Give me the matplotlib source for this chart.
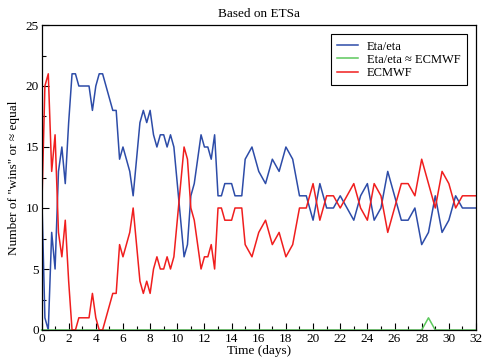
import numpy as np
import matplotlib
matplotlib.use("Agg")
import matplotlib.pyplot as plt
from matplotlib.ticker import MultipleLocator

plt.rcParams['font.family'] = ['Liberation Serif', 'DejaVu Serif']

# 6-hourly up to day 15, 12-hourly afterwards
time_days = np.concatenate([np.arange(0, 15, 0.25), np.arange(15, 32.01, 0.5)])

eta_wins = [
    12, 1, 0, 8, 5, 13, 15, 12, 17, 21, 21, 20, 20, 20, 20, 18,
    20, 21, 21, 20, 19, 18, 18, 14, 15, 14, 13, 11, 14, 17, 18, 17,
    18, 16, 15, 16, 16, 15, 16, 15, 12, 9, 6, 7, 11, 12, 14, 16,
    15, 15, 14, 16, 11, 11, 12, 12, 12, 11, 11, 11,
    14, 15, 13, 12, 14, 13, 15, 14, 11, 11, 9, 12, 10, 10, 11, 10,
    9, 11, 12, 9, 10, 13, 11, 9, 9, 10, 7, 8, 11, 8, 9, 11,
    10, 10, 10,
]
ecmwf_wins = [
    9, 20, 21, 13, 16, 8, 6, 9, 4, 0, 0, 1, 1, 1, 1, 3,
    1, 0, 0, 1, 2, 3, 3, 7, 6, 7, 8, 10, 7, 4, 3, 4,
    3, 5, 6, 5, 5, 6, 5, 6, 9, 12, 15, 14, 10, 9, 7, 5,
    6, 6, 7, 5, 10, 10, 9, 9, 9, 10, 10, 10,
    7, 6, 8, 9, 7, 8, 6, 7, 10, 10, 12, 9, 11, 11, 10, 11,
    12, 10, 9, 12, 11, 8, 10, 12, 12, 11, 14, 12, 10, 13, 12, 10,
    11, 11, 11,
]
equal = [0] * 87 + [1] + [0] * 7

fig = plt.figure(figsize=(4.82, 3.62), dpi=100)
ax = fig.add_axes([41.5 / 482, 32 / 362, 434.5 / 482, 305 / 362])

ax.plot(time_days, eta_wins, color='#2d4ca8', lw=1.1, label='Eta/eta')
ax.plot(time_days, equal, color='#5cc85c', lw=1.1, label='Eta/eta \u2248 ECMWF', clip_on=False)
ax.plot(time_days, ecmwf_wins, color='#f01e1e', lw=1.1, label='ECMWF')

ax.set_xlim(0, 32)
ax.set_ylim(0, 25)
ax.xaxis.set_major_locator(MultipleLocator(2))
ax.xaxis.set_minor_locator(MultipleLocator(1))
ax.yaxis.set_major_locator(MultipleLocator(5))
ax.yaxis.set_minor_locator(MultipleLocator(2.5))
ax.tick_params(which='both', direction='in', labelsize=9.5, width=0.8, pad=2)
ax.tick_params(which='major', length=5)
ax.tick_params(which='minor', length=3)
for s in ax.spines.values():
    s.set_linewidth(0.9)

ax.set_title('Based on ETSa', fontsize=9.5, pad=6)
ax.set_xlabel('Time (days)', fontsize=9.5, labelpad=0)
ax.set_ylabel('Number of "wins" or \u2248 equal', fontsize=9.5, labelpad=4)

leg = ax.legend(loc='upper right', bbox_to_anchor=(0.993, 0.99), fontsize=9,
                fancybox=False, edgecolor='black', framealpha=1,
                handlelength=1.7, handletextpad=0.7, borderpad=0.5,
                labelspacing=0.1)
leg.get_frame().set_linewidth(0.8)

fig.savefig('out.png', dpi=100)
